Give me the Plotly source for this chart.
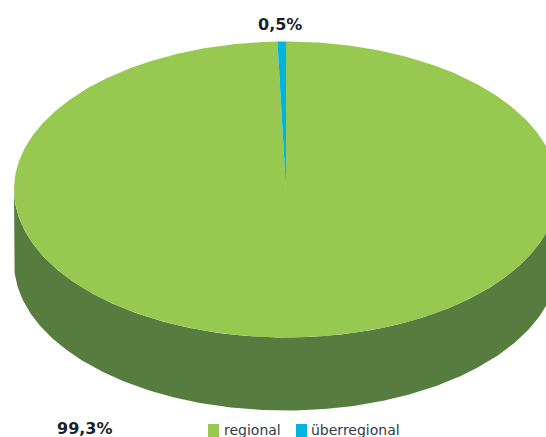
import numpy as np
import plotly.graph_objects as go

categories = ["regional", "überregional"]
values = [99.3, 0.5]
value_labels = ["99,3%", "0,5%"]
colors = ["#97C950", "#00B4E1"]
side_color = "#567C3F"
text_color = "#1B1F2A"

W, H = 546, 437
CX, CY, RX, RY, DEPTH = 286, 189.5, 272, 148, 73


def ellipse(a):
    """a: clockwise angle from 12 o'clock."""
    return CX + RX * np.sin(a), CY - RY * np.cos(a)


def slice_xy(a0, a1):
    n = max(3, int(abs(a1 - a0) * 90))
    x, y = ellipse(np.linspace(a0, a1, n))
    return np.r_[CX, x, CX], np.r_[CY, y, CY]


total = sum(values)
ends = np.cumsum(values) / total * 2 * np.pi
starts = np.r_[0, ends[:-1]]

fig = go.Figure()

# extruded wall: visible front half of the rim
a = np.linspace(np.pi / 2, 3 * np.pi / 2, 240)
x, y = ellipse(a)
fig.add_trace(go.Scatter(
    x=np.r_[x, x[::-1]], y=np.r_[y, (y + DEPTH)[::-1]],
    mode="lines", fill="toself", fillcolor=side_color,
    line=dict(width=0), showlegend=False, hoverinfo="skip",
))

# top face
for cat, a0, a1, col in zip(categories, starts, ends, colors):
    sx, sy = slice_xy(a0, a1)
    fig.add_trace(go.Scatter(
        x=sx, y=sy, mode="lines", fill="toself", fillcolor=col,
        line=dict(width=0), name=cat, showlegend=False, hoverinfo="skip",
    ))

# value labels
fig.add_annotation(x=280, y=24, text=f"<b>{value_labels[1]}</b>", showarrow=False,
                   font=dict(family="DejaVu Sans", size=16, color=text_color))
fig.add_annotation(x=85, y=428, text=f"<b>{value_labels[0]}</b>", showarrow=False,
                   font=dict(family="DejaVu Sans", size=16, color=text_color))

# compact legend (swatch sits close to its label, as in the reference)
legend_swatch_x = [208, 296]
legend_text_x = [223, 310]
for cat, col, sx, tx in zip(categories, colors, legend_swatch_x, legend_text_x):
    fig.add_shape(type="rect", x0=sx, x1=sx + 11, y0=424, y1=437,
                  fillcolor=col, line=dict(width=0), layer="above")
    fig.add_annotation(x=tx, y=429.5, text=cat, showarrow=False, xanchor="left",
                       font=dict(family="DejaVu Sans", size=14, color="#2F3B4A"),
                       borderpad=0)

fig.update_layout(
    width=W, height=H, margin=dict(l=0, r=0, t=0, b=0),
    paper_bgcolor="white", plot_bgcolor="white", showlegend=False,
    xaxis=dict(range=[0, W], visible=False, fixedrange=True),
    yaxis=dict(range=[H, 0], visible=False, fixedrange=True),
)
fig.write_html(
    "out.html",
    config={"displayModeBar": False},
    post_script="document.body.style.margin='0';document.documentElement.style.overflow='hidden';",
)
